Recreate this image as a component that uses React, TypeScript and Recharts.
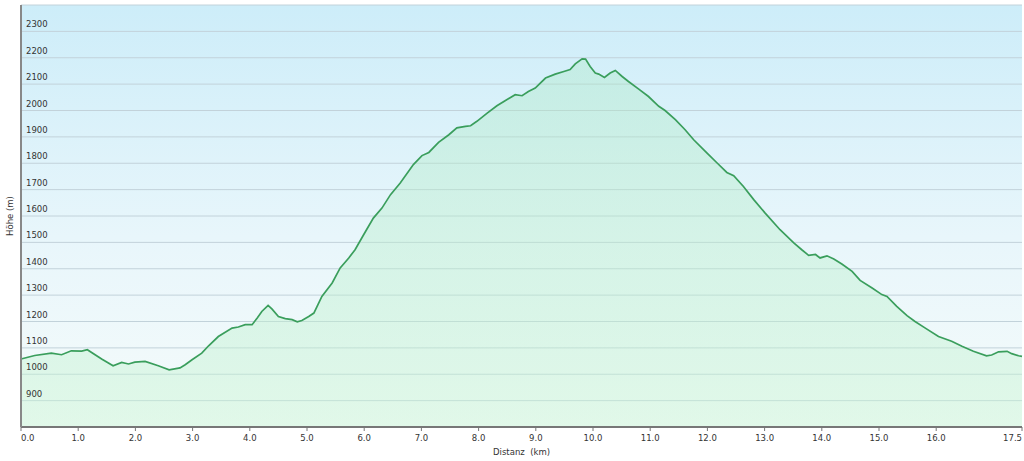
import React from "react";
import { AreaChart, Area, XAxis, YAxis, CartesianGrid } from "recharts";

// elevation profile
const distKm = [
  0, 0.24, 0.53, 0.71, 0.88, 1.06, 1.16, 1.41, 1.61, 1.76, 1.88, 1.99, 2.17, 2.4, 2.59, 2.78, 2.87, 2.99,
  3.16, 3.28, 3.45, 3.69, 3.8, 3.92, 4.04, 4.13, 4.21, 4.32, 4.39, 4.5, 4.62, 4.74, 4.83, 4.91, 5.03, 5.12,
  5.26, 5.44, 5.58, 5.73, 5.84, 5.99, 6.16, 6.31, 6.46, 6.63, 6.86, 7.01, 7.13, 7.3, 7.48, 7.62, 7.77, 7.86,
  7.97, 8.15, 8.32, 8.47, 8.64, 8.76, 8.87, 8.99, 9.17, 9.34, 9.49, 9.6, 9.69, 9.81, 9.87, 9.95, 10.04, 10.1,
  10.2, 10.3, 10.39, 10.51, 10.62, 10.8, 10.97, 11.15, 11.26, 11.44, 11.61, 11.76, 11.99, 12.17, 12.34, 12.46,
  12.63, 12.81, 13.01, 13.27, 13.51, 13.65, 13.77, 13.89, 13.97, 14.09, 14.21, 14.35, 14.53, 14.67, 14.88,
  15.05, 15.14, 15.31, 15.49, 15.63, 15.81, 16.04, 16.27, 16.45, 16.65, 16.88, 16.97, 17.09, 17.24, 17.32,
  17.44, 17.5,
];
const elevM = [
  1058, 1071, 1080, 1074, 1089, 1088, 1093, 1058, 1032, 1045, 1039, 1046, 1049, 1032, 1017, 1024, 1036, 1055,
  1080, 1108, 1143, 1175, 1179, 1188, 1188, 1213, 1238, 1261, 1247, 1219, 1211, 1207, 1199, 1204, 1219, 1232,
  1295, 1346, 1403, 1441, 1472, 1529, 1592, 1630, 1681, 1725, 1795, 1829, 1841, 1879, 1908, 1934, 1940, 1942,
  1959, 1990, 2018, 2038, 2060, 2056, 2072, 2085, 2123, 2138, 2148, 2155, 2177, 2196, 2195, 2167, 2142, 2138,
  2125, 2142, 2152, 2129, 2110, 2081, 2053, 2016, 2000, 1965, 1927, 1889, 1839, 1801, 1765, 1753,
  1712, 1662, 1611, 1548, 1498, 1472, 1451, 1454, 1441, 1449, 1437, 1418, 1390, 1356, 1327,
  1302, 1295, 1257, 1222, 1200, 1175, 1143, 1125, 1106, 1087, 1070, 1073, 1085, 1087, 1078,
  1070, 1068,
];
const xTicks = [0, 1, 2, 3, 4, 5, 6, 7, 8, 9, 10, 11, 12, 13, 14, 15, 16, 17.5];
const yTicks = [800, 900, 1000, 1100, 1200, 1300, 1400, 1500, 1600, 1700, 1800, 1900, 2000, 2100, 2200, 2300, 2400];

const data = distKm.map((d, i) => ({ km: d, hoehe: elevM[i] }));

const FONT = "'DejaVu Sans', Verdana, sans-serif";
const TXT = "#333";

function YTick({ x, y, payload }: any) {
  if (payload.value === 800 || payload.value === 2400) return null;
  return (
    <text x={x + 5} y={y - 4} fontSize={8.5} fontFamily={FONT} fill={TXT}>
      {payload.value}
    </text>
  );
}

function XTick({ x, y, payload, index }: any) {
  const anchor = index === 0 ? "start" : index === xTicks.length - 1 ? "end" : "middle";
  return (
    <text x={x} y={y} dy="0.71em" textAnchor={anchor} fontSize={8.5} fontFamily={FONT} fill={TXT}>
      {Number(payload.value).toFixed(1)}
    </text>
  );
}

export default function App() {
  return (
    <div style={{ position: "absolute", left: 0, top: 0, width: 1024, height: 461, background: "#fff" }}>
      <AreaChart width={1024} height={461} data={data} margin={{ top: 5, right: 2, bottom: 0, left: 20 }}>
        <defs>
          <linearGradient id="bgGrad" x1="0" y1="0" x2="0" y2="1">
            <stop offset="0%" stopColor="#cdedf9" />
            <stop offset="55%" stopColor="#e8f6fb" />
            <stop offset="100%" stopColor="#f5fbfa" />
          </linearGradient>
          <linearGradient id="areaGrad" x1="0" y1="0" x2="0" y2="1">
            <stop offset="0%" stopColor="#a8e8c0" stopOpacity={0.35} />
            <stop offset="100%" stopColor="#c8f5d4" stopOpacity={0.45} />
          </linearGradient>
        </defs>
        <CartesianGrid
          vertical={false}
          stroke="#c2d2da"
          strokeWidth={1}
          fill="url(#bgGrad)"
          fillOpacity={1}
          horizontalValues={yTicks}
        />
        <Area
          type="linear"
          dataKey="hoehe"
          stroke="#3a9e5c"
          strokeWidth={1.7}
          fill="url(#areaGrad)"
          fillOpacity={1}
          dot={false}
          activeDot={false}
          isAnimationActive={false}
        />
        <XAxis
          dataKey="km"
          type="number"
          domain={[0, 17.5]}
          ticks={xTicks}
          height={34}
          tickSize={4}
          tickMargin={4}
          axisLine={{ stroke: "#777", strokeWidth: 2 }}
          tickLine={{ stroke: "#777" }}
          tick={<XTick />}
          interval={0}
          label={{
            content: (p: any) => {
              const vb = p.viewBox;
              return (
                <text
                  x={vb.x + vb.width / 2}
                  y={vb.y + 28}
                  textAnchor="middle"
                  fontSize={8.5}
                  fontFamily={FONT}
                  fill={TXT}
                  style={{ whiteSpace: "pre" }}
                >
                  {"Distanz  (km)"}
                </text>
              );
            },
          }}
        />
        <YAxis
          type="number"
          domain={[800, 2400]}
          ticks={yTicks}
          width={1}
          tickSize={0}
          tickMargin={0}
          tickLine={false}
          axisLine={{ stroke: "#888", strokeWidth: 2 }}
          tick={<YTick />}
          interval={0}
          label={{
            content: (p: any) => {
              const vb = p.viewBox;
              const cx = vb.x - 7;
              const cy = vb.y + vb.height / 2;
              return (
                <text
                  x={cx}
                  y={cy}
                  transform={`rotate(-90 ${cx} ${cy})`}
                  textAnchor="middle"
                  fontSize={8.5}
                  fontFamily={FONT}
                  fill={TXT}
                >
                  Höhe (m)
                </text>
              );
            },
          }}
        />
      </AreaChart>
    </div>
  );
}
